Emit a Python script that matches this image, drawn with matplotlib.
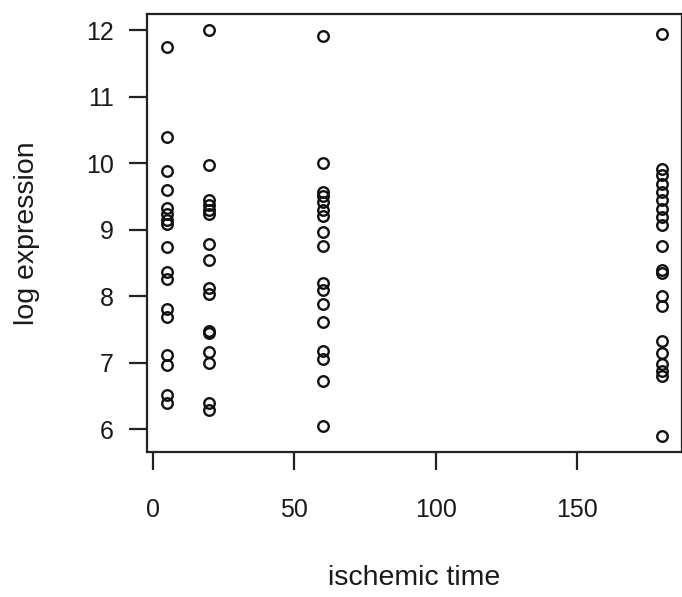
import matplotlib
matplotlib.use("Agg")
import matplotlib.pyplot as plt

plt.rcParams['font.family'] = ['Liberation Sans', 'DejaVu Sans']

# ischemic time groups and log expression readings per group
t5 = [11.75, 10.39, 9.88, 9.59, 9.33, 9.24, 9.15, 9.08, 8.74, 8.37, 8.26,
      7.81, 7.69, 7.12, 6.96, 6.52, 6.40]
t20 = [12.0, 9.97, 9.44, 9.37, 9.30, 9.23, 8.79, 8.54, 8.12, 8.04,
       7.48, 7.45, 7.16, 7.0, 6.40, 6.29]
t60 = [11.91, 10.0, 9.57, 9.50, 9.42, 9.30, 9.20, 8.97, 8.75, 8.20, 8.10,
       7.88, 7.61, 7.18, 7.06, 6.73, 6.05]
t180 = [11.95, 9.92, 9.82, 9.69, 9.56, 9.44, 9.31, 9.19, 9.07, 8.76,
        8.40, 8.35, 8.0, 7.85, 7.33, 7.15, 6.98, 6.88, 6.80, 5.90]

groups = [5, 20, 60, 180]
values = [t5, t20, t60, t180]

x = []
y = []
for g, vals in zip(groups, values):
    x += [g] * len(vals)
    y += vals

fig = plt.figure(figsize=(6.82, 5.97), dpi=100)
ax = fig.add_axes([147 / 682, 1 - 452 / 597, 535 / 682, 438 / 597])

ax.plot(x, y, linestyle='none', marker='o', markersize=7.6,
        markerfacecolor='none', markeredgecolor='#111111', markeredgewidth=1.7)

ax.margins(x=0.04, y=0.04)
ax.set_xticks([0, 50, 100, 150])
ax.set_yticks([6, 7, 8, 9, 10, 11, 12])

for s in ax.spines.values():
    s.set_linewidth(1.6)
    s.set_color('#222222')

ax.tick_params(axis='both', direction='out', length=13, width=1.6,
               color='#222222', labelsize=18, labelcolor='#1a1a1a')
ax.tick_params(axis='x', pad=20)
ax.tick_params(axis='y', pad=11)

ax.set_xlabel('ischemic time', fontsize=20.5, color='#1a1a1a')
ax.set_ylabel('log expression', fontsize=20.5, color='#1a1a1a')
# place axis titles where the reference has them
ax.xaxis.set_label_coords(0.5, -(578 - 452) / 438, transform=ax.transAxes)
ax.xaxis.label.set_va('center')
ax.yaxis.set_label_coords(-(147 - 27) / 535, 0.5, transform=ax.transAxes)
ax.yaxis.label.set_va('center')

fig.savefig('out.png', dpi=100)
